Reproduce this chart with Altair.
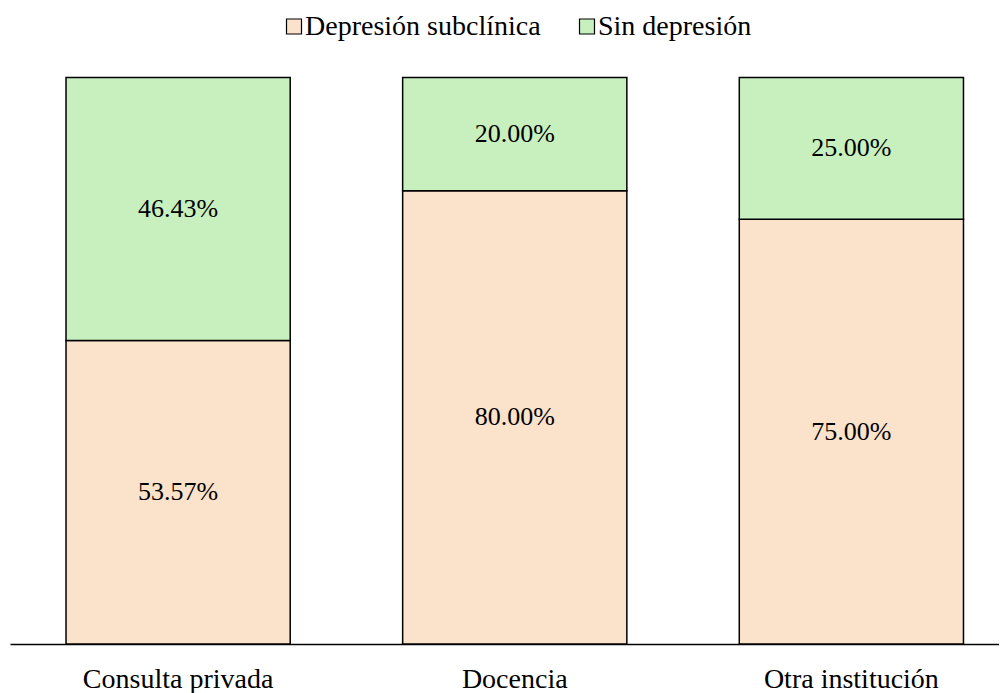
import altair as alt
import pandas as pd

categories = ["Consulta privada", "Docencia", "Otra institución"]
series = ["Depresión subclínica", "Sin depresión"]
dep_subclinica = [0.5357, 0.80, 0.75]
sin_depresion = [0.4643, 0.20, 0.25]
colors = ["#FBE2CB", "#C8F0BE"]

rows = []
for i, c in enumerate(categories):
    rows.append({"cat": c, "grupo": series[0], "valor": dep_subclinica[i]})
    rows.append({"cat": c, "grupo": series[1], "valor": sin_depresion[i]})
df = pd.DataFrame(rows)

FONT = "Liberation Serif, Times New Roman, serif"

x_enc = alt.X(
    "cat:N",
    sort=categories,
    title=None,
    scale=alt.Scale(paddingInner=0.334, paddingOuter=0.1664, range=[0, 1009.5]),
    axis=alt.Axis(
        labelAngle=0,
        labelFont=FONT,
        labelFontSize=28,
        labelColor="black",
        labelBaseline="alphabetic",
        labelPadding=43,
        labelLimit=0,
        ticks=False,
        tickSize=0,
        domainColor="black",
        domainWidth=1.5,
        grid=False,
    ),
)

base = alt.Chart(df)

bars = base.mark_bar(stroke="black", strokeWidth=1.5).encode(
    x=x_enc,
    y=alt.Y("valor:Q", stack="zero", axis=None,
            scale=alt.Scale(domain=[0, 1], nice=False)),
    color=alt.Color(
        "grupo:N",
        sort=series,
        scale=alt.Scale(domain=series, range=colors),
        legend=alt.Legend(
            title=None,
            orient="none",
            direction="horizontal",
            legendX=270,
            legendY=-65,
            labelFont=FONT,
            labelFontSize=28,
            labelColor="black",
            labelLimit=0,
            labelOffset={"expr": "-3"},
            columnPadding=32,
            padding=0,
            symbolType="square",
            symbolSize=225,
            symbolStrokeColor="black",
            symbolStrokeWidth=1.2,
            symbolOpacity=1,
        ),
    ),
    order=alt.Order("grupo:N", sort="ascending"),
)

labels = base.transform_stack(
    stack="valor", groupby=["cat"], as_=["y0", "y1"],
    sort=[alt.SortField("grupo", order="ascending")],
).transform_calculate(
    ymid="(datum.y0 + datum.y1) / 2"
).mark_text(font=FONT, fontSize=26, color="black", baseline="middle").encode(
    x=alt.X("cat:N", sort=categories),
    y=alt.Y("ymid:Q", scale=alt.Scale(domain=[0, 1], nice=False), axis=None),
    text=alt.Text("valor:Q", format=".2%"),
)

chart = alt.layer(bars, labels).properties(
    width=989,
    height=566.5,
    autosize=alt.AutoSizeParams(type="none"),
    padding={"left": 2, "top": 69.5, "right": 0, "bottom": 50},
).configure_view(stroke=None)

chart.save("out.html", embed_options={"renderer": "svg", "actions": False})
